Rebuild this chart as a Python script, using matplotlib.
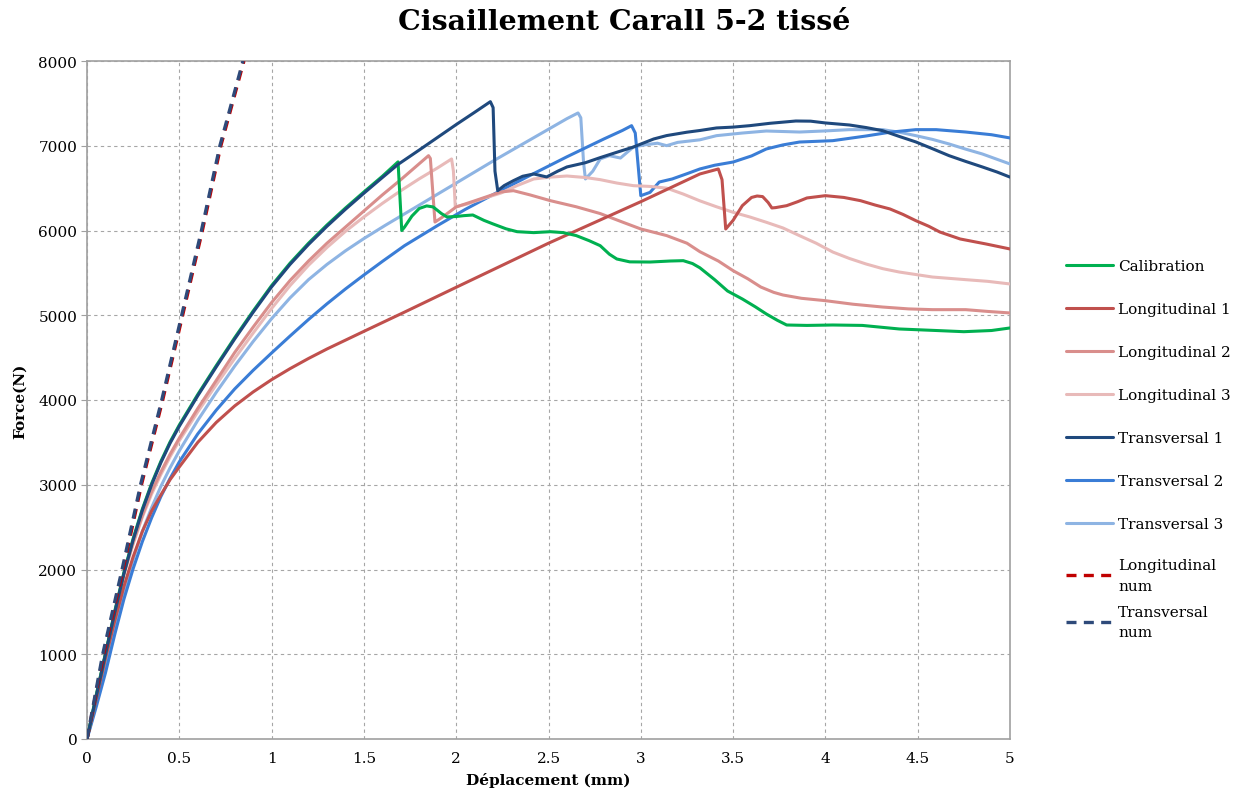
import matplotlib
matplotlib.use("Agg")
import matplotlib.pyplot as plt

plt.rcParams['font.family'] = ['DejaVu Serif']

# --- data (x: mm, y: N) ---
calib_x = [0, 0.05, 0.1, 0.15, 0.2, 0.25, 0.3, 0.35, 0.4, 0.45, 0.5, 0.6, 0.7, 0.8, 0.9, 1.0, 1.1, 1.2,
           1.3, 1.4, 1.5, 1.6, 1.685, 1.705, 1.72, 1.76, 1.8, 1.84, 1.875, 1.92, 1.95, 2.0, 2.04, 2.09,
           2.15, 2.2, 2.27, 2.33, 2.42, 2.51, 2.58, 2.65, 2.72, 2.78, 2.83, 2.87, 2.94, 3.05, 3.16,
           3.23, 3.28, 3.32, 3.4, 3.47, 3.55, 3.62, 3.68, 3.74, 3.79, 3.9, 4.04, 4.2, 4.4, 4.6, 4.75,
           4.9, 5.0]
calib_y = [0, 520, 1010, 1505, 1965, 2365, 2715, 3015, 3275, 3505, 3705, 4065, 4405, 4735, 5050,
           5350, 5615, 5850, 6065, 6265, 6455, 6640, 6810, 6000, 6040, 6170, 6260, 6290, 6278, 6200,
           6160, 6165, 6175, 6183, 6120, 6077, 6020, 5986, 5975, 5986, 5975, 5940, 5880, 5821, 5720,
           5664, 5630, 5628, 5640, 5644, 5610, 5560, 5420, 5286, 5192, 5100, 5015, 4940, 4885, 4880,
           4885, 4880, 4838, 4820, 4806, 4820, 4850]

long1_x = [0, 0.05, 0.1, 0.15, 0.2, 0.25, 0.3, 0.35, 0.4, 0.45, 0.5, 0.6, 0.7, 0.8, 0.9, 1.0, 1.1, 1.2,
           1.3, 1.4, 1.5, 1.72, 2.0, 2.5, 3.0, 3.32, 3.42, 3.44, 3.46, 3.5, 3.55, 3.6, 3.63, 3.66, 3.69,
           3.71, 3.73, 3.79, 3.85, 3.9, 4.0, 4.1, 4.19, 4.27, 4.35, 4.42, 4.49, 4.56, 4.62, 4.73, 4.87, 5.0]
long1_y = [0, 470, 950, 1390, 1800, 2150, 2450, 2690, 2880, 3060, 3210, 3500, 3735, 3930, 4095, 4240,
           4370, 4490, 4602, 4706, 4810, 5037, 5330, 5850, 6340, 6667, 6726, 6600, 6018, 6120, 6293,
           6390, 6407, 6400, 6330, 6266, 6270, 6293, 6340, 6384, 6411, 6390, 6352, 6300, 6254, 6190,
           6116, 6050, 5982, 5900, 5841, 5782]

long2_x = [0, 0.05, 0.1, 0.15, 0.2, 0.25, 0.3, 0.35, 0.4, 0.45, 0.5, 0.6, 0.7, 0.8, 0.9, 1.0, 1.1, 1.2,
           1.3, 1.4, 1.5, 1.6, 1.7, 1.85, 1.86, 1.875, 1.885, 1.92, 2.0, 2.1, 2.24, 2.31, 2.4, 2.51, 2.65,
           2.78, 2.9, 3.0, 3.14, 3.25, 3.32, 3.42, 3.5, 3.58, 3.65, 3.72, 3.77, 3.87, 4.0, 4.15, 4.31,
           4.45, 4.58, 4.76, 4.88, 5.0]
long2_y = [0, 510, 1000, 1490, 1950, 2320, 2640, 2920, 3150, 3360, 3550, 3900, 4230, 4560, 4860,
           5150, 5410, 5640, 5850, 6040, 6230, 6420, 6600, 6883, 6850, 6400, 6100, 6150, 6278, 6350,
           6454, 6470, 6420, 6352, 6280, 6200, 6100, 6018, 5940, 5850, 5750, 5640, 5526, 5430, 5333,
           5270, 5239, 5200, 5172, 5130, 5097, 5075, 5066, 5066, 5045, 5027]

long3_x = [0, 0.05, 0.1, 0.15, 0.2, 0.25, 0.3, 0.35, 0.4, 0.45, 0.5, 0.6, 0.7, 0.8, 0.9, 1.0, 1.1, 1.2,
           1.3, 1.4, 1.5, 1.6, 1.7, 1.8, 1.9, 1.975, 1.985, 1.995, 2.06, 2.15, 2.24, 2.33, 2.42, 2.51,
           2.6, 2.7, 2.78, 2.87, 2.96, 3.05, 3.14, 3.23, 3.32, 3.41, 3.5, 3.59, 3.68, 3.77, 3.86, 3.95,
           4.04, 4.13, 4.22, 4.31, 4.4, 4.58, 4.76, 4.88, 5.0]
long3_y = [0, 500, 1000, 1480, 1940, 2300, 2620, 2890, 3120, 3330, 3520, 3860, 4180, 4490, 4790,
           5080, 5350, 5590, 5800, 5990, 6160, 6320, 6470, 6610, 6740, 6844, 6700, 6278, 6313, 6380,
           6440, 6530, 6608, 6630, 6643, 6625, 6600, 6560, 6529, 6520, 6500, 6430, 6350, 6280, 6215,
           6160, 6097, 6030, 5939, 5850, 5746, 5670, 5605, 5550, 5510, 5451, 5420, 5400, 5369]

trans1_x = [0, 0.05, 0.1, 0.15, 0.2, 0.25, 0.3, 0.35, 0.4, 0.45, 0.5, 0.6, 0.7, 0.8, 0.9, 1.0, 1.1,
            1.2, 1.3, 1.4, 1.5, 1.6, 1.685, 1.8, 1.9, 2.0, 2.1, 2.185, 2.2, 2.21, 2.225, 2.26, 2.31,
            2.36, 2.42, 2.49, 2.55, 2.6, 2.7, 2.78, 2.88, 2.96, 3.0, 3.07, 3.14, 3.25, 3.32, 3.41, 3.5,
            3.59, 3.7, 3.84, 3.92, 4.0, 4.13, 4.22, 4.31, 4.4, 4.49, 4.58, 4.67, 4.76, 4.85, 4.93, 5.0]
trans1_y = [0, 505, 1000, 1490, 1950, 2350, 2700, 3000, 3260, 3490, 3690, 4050, 4390, 4720, 5035,
            5335, 5600, 5835, 6050, 6250, 6440, 6625, 6780, 6950, 7100, 7250, 7395, 7520, 7450, 6700,
            6470, 6530, 6588, 6640, 6667, 6632, 6700, 6750, 6800, 6860, 6930, 6985, 7020, 7080, 7120,
            7160, 7180, 7210, 7220, 7237, 7265, 7292, 7290, 7269, 7245, 7215, 7178, 7110, 7045, 6965,
            6883, 6815, 6750, 6690, 6630]

trans2_x = [0, 0.05, 0.1, 0.15, 0.2, 0.25, 0.3, 0.35, 0.4, 0.45, 0.5, 0.6, 0.7, 0.8, 0.9, 1.0, 1.1,
            1.2, 1.3, 1.4, 1.5, 1.6, 1.72, 1.9, 2.05, 2.24, 2.4, 2.6, 2.8, 2.9, 2.95, 2.97, 3.0, 3.05,
            3.1, 3.17, 3.25, 3.32, 3.4, 3.5, 3.6, 3.68, 3.77, 3.86, 4.04, 4.22, 4.35, 4.49, 4.6, 4.76,
            4.9, 5.0]
trans2_y = [0, 380, 780, 1230, 1650, 2010, 2330, 2610, 2860, 3075, 3270, 3600, 3880, 4130, 4350,
            4555, 4755, 4950, 5135, 5310, 5475, 5635, 5821, 6060, 6250, 6470, 6650, 6870, 7080, 7180,
            7237, 7150, 6411, 6450, 6572, 6608, 6670, 6726, 6770, 6808, 6880, 6962, 7010, 7044, 7060,
            7115, 7160, 7190, 7190, 7162, 7130, 7092]

trans3_x = [0, 0.05, 0.1, 0.15, 0.2, 0.25, 0.3, 0.35, 0.4, 0.45, 0.5, 0.6, 0.7, 0.8, 0.9, 1.0, 1.1,
            1.2, 1.3, 1.4, 1.5, 1.615, 1.8, 2.0, 2.2, 2.4, 2.6, 2.66, 2.675, 2.69, 2.70, 2.74, 2.78,
            2.83, 2.89, 2.93, 2.96, 3.02, 3.09, 3.14, 3.2, 3.32, 3.41, 3.55, 3.68, 3.86, 4.0, 4.13,
            4.31, 4.4, 4.49, 4.58, 4.67, 4.76, 4.85, 4.93, 5.0]
trans3_y = [0, 420, 850, 1310, 1750, 2120, 2450, 2730, 2980, 3200, 3400, 3760, 4090, 4400, 4690,
            4960, 5205, 5420, 5600, 5760, 5905, 6060, 6300, 6560, 6820, 7070, 7320, 7387, 7330, 6800,
            6608, 6700, 6844, 6883, 6855, 6930, 6985, 7010, 7030, 7001, 7040, 7070, 7119, 7150, 7174,
            7162, 7175, 7190, 7190, 7160, 7119, 7075, 7021, 6960, 6903, 6840, 6785]

lnum_x = [0, 0.09, 0.195, 0.295, 0.41, 0.518, 0.625, 0.725, 0.85]
tnum_x = [0, 0.085, 0.19, 0.29, 0.405, 0.513, 0.62, 0.72, 0.845]
num_y = [0, 1000, 2000, 3000, 4000, 5000, 6000, 7000, 8000]

series = [
    ("Calibration", calib_x, calib_y, "#00B050"),
    ("Longitudinal 1", long1_x, long1_y, "#C0504D"),
    ("Longitudinal 2", long2_x, long2_y, "#D98E8C"),
    ("Longitudinal 3", long3_x, long3_y, "#E8BAB9"),
    ("Transversal 1", trans1_x, trans1_y, "#1F497D"),
    ("Transversal 2", trans2_x, trans2_y, "#3A7DD6"),
    ("Transversal 3", trans3_x, trans3_y, "#8EB4E3"),
]

fig = plt.figure(figsize=(12.48, 8.03), dpi=100)
ax = fig.add_axes([87 / 1248, 63 / 803, 923 / 1248, 678 / 803])

# lighter curves first so the darker ones sit on top
order = [6, 5, 3, 2, 1, 0, 4]
lines = {}
for i in order:
    name, xs, ys, col = series[i]
    ln, = ax.plot(xs, ys, color=col, lw=2.2, label=name, solid_capstyle='round',
                  solid_joinstyle='round', zorder=3)
    lines[i] = ln
handles = [lines[i] for i in range(7)]

h_ln, = ax.plot(lnum_x, num_y, color="#C00000", lw=2.4, ls=(0, (3, 2.2)), label="Longitudinal\nnum", zorder=4)
h_tn, = ax.plot(tnum_x, num_y, color="#2E4A7A", lw=2.4, ls=(0, (3, 2.2)), label="Transversal\nnum", zorder=5)

ax.set_xlim(0, 5)
ax.set_ylim(0, 8000)
ax.set_xticks([0, 0.5, 1, 1.5, 2, 2.5, 3, 3.5, 4, 4.5, 5])
ax.set_xticklabels(["0", "0.5", "1", "1.5", "2", "2.5", "3", "3.5", "4", "4.5", "5"])
ax.set_yticks(range(0, 8001, 1000))
ax.grid(True, color="#A6A6A6", ls=(0, (3, 3)), lw=0.8)
ax.set_axisbelow(True)
for s in ax.spines.values():
    s.set_color("#A0A0A0")
    s.set_linewidth(1.2)
ax.tick_params(axis='y', direction='out', length=4, color="#A0A0A0", labelsize=11, pad=3)
ax.tick_params(axis='x', length=0, labelsize=11, pad=9)

ax.set_xlabel("Déplacement (mm)", fontsize=11, fontweight='bold', labelpad=5)
ax.set_ylabel("Force(N)", fontsize=11, fontweight='bold', labelpad=8)
fig.text(0.5, 1 - 23 / 803, "Cisaillement Carall 5-2 tissé", ha='center', va='center',
         fontsize=20.5, fontweight='bold')

leg1 = fig.legend(handles=handles, loc='upper left', bbox_to_anchor=(1066 / 1248, 1 - 260 / 803),
                  frameon=False, fontsize=11, handlelength=3.1, handletextpad=0.3, labelspacing=1.9,
                  borderpad=0, borderaxespad=0)
leg2 = fig.legend(handles=[h_ln, h_tn], loc='upper left', bbox_to_anchor=(1066 / 1248, 1 - 559 / 803),
                  frameon=False, fontsize=11, handlelength=3.1, handletextpad=0.3, labelspacing=0.8,
                  borderpad=0, borderaxespad=0)
for t in leg2.get_texts():
    t.set_linespacing(1.6)

fig.savefig("out.png", dpi=100)
